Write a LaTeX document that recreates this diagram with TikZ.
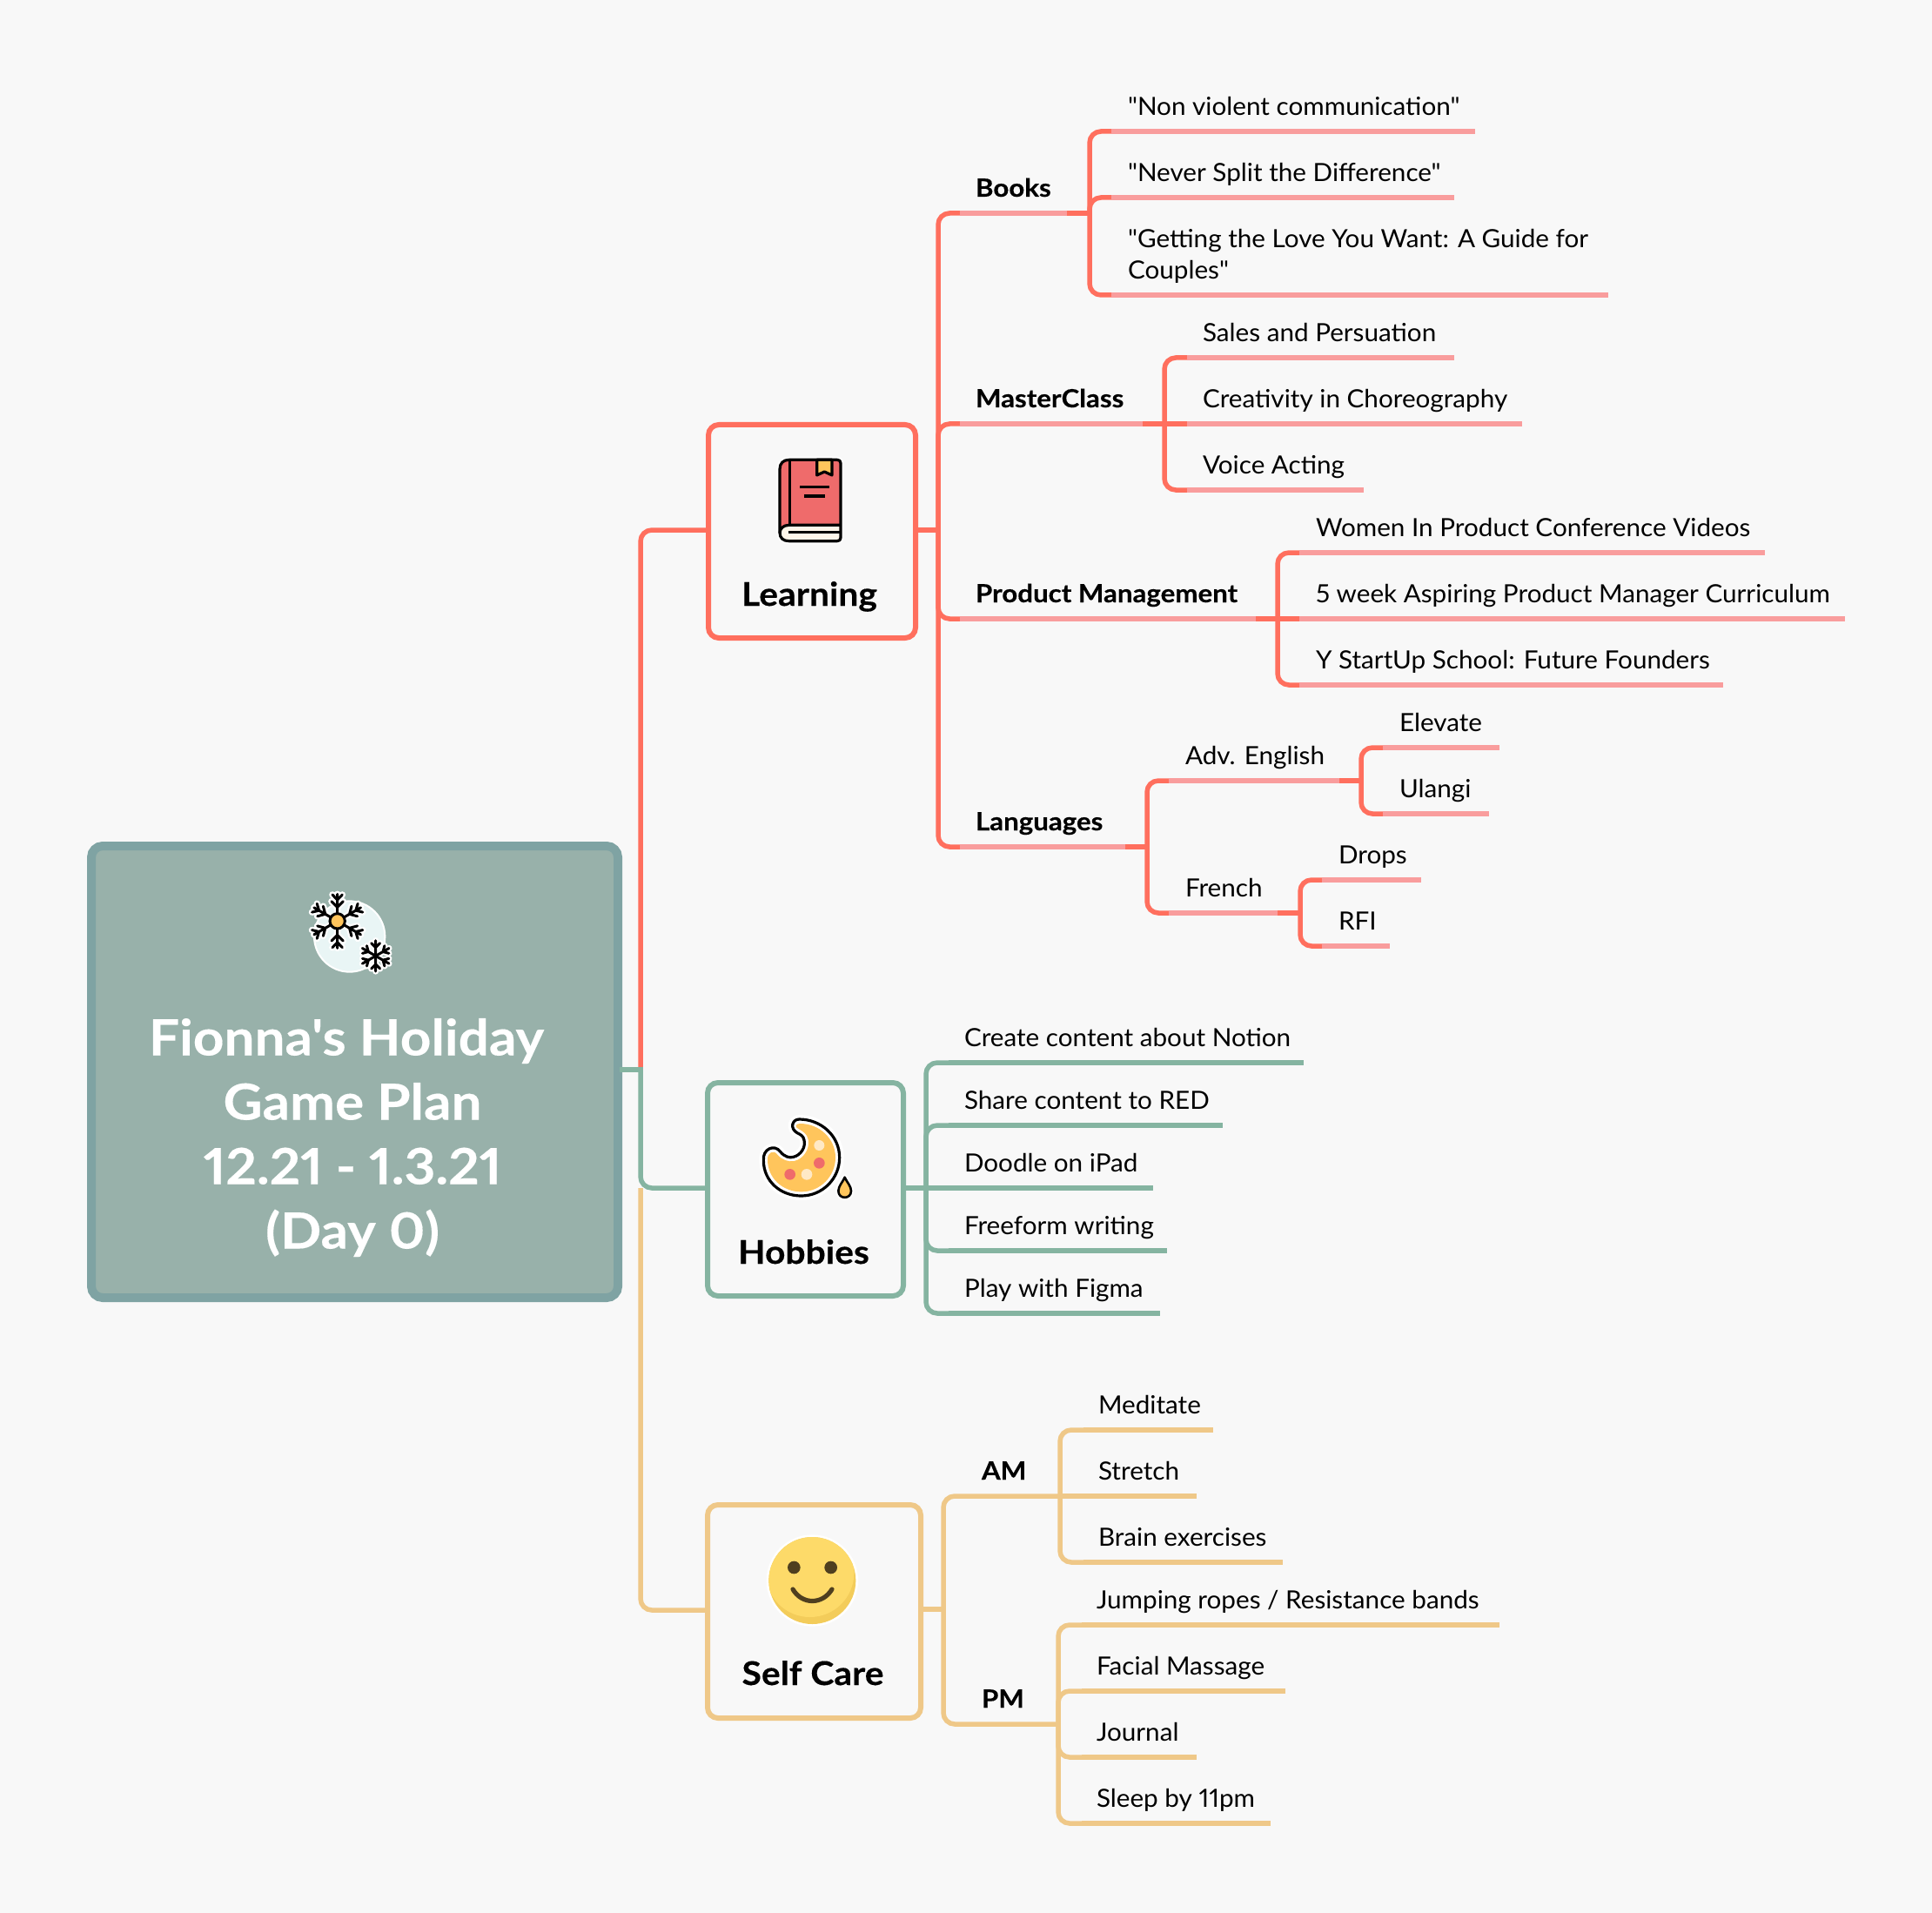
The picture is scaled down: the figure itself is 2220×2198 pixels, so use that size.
\documentclass[tikz,border=0pt]{standalone}
\usepackage{fontspec}
\newfontfamily\latoF{Lato}[Numbers=Proportional,FakeStretch=1.03,BoldFeatures={FakeStretch=1.085,FakeBold=0.25}]
\definecolor{bgc}{HTML}{F8F8F8}
\definecolor{redc}{HTML}{FF6F5E}
\definecolor{pinkc}{HTML}{F99D9D}
\definecolor{greenc}{HTML}{85B4A1}
\definecolor{yelc}{HTML}{EFC888}
\definecolor{rootb}{HTML}{7FA3A3}
\definecolor{rootf}{HTML}{98B1AA}
\definecolor{iyel}{HTML}{FFC55C}
\definecolor{ired}{HTML}{EF6B6B}
\definecolor{icream}{HTML}{FFF6EA}
\definecolor{idot}{HTML}{FFE9C6}
\definecolor{iface}{HTML}{FDDA69}
\definecolor{ishade}{HTML}{F3CC5A}
\definecolor{ieye}{HTML}{4F3F1F}
\definecolor{idisc}{HTML}{E9F5F5}
\tikzset{
  base line/.style={line width=2.75pt,line cap=butt,rounded corners=6.5pt},
  redl/.style={base line,draw=redc},
  pinkl/.style={base line,draw=pinkc},
  grnl/.style={base line,draw=greenc},
  yell/.style={base line,draw=yelc},
  txt/.style={anchor=base west,inner sep=0pt,outer sep=0pt,font=\latoF\fontsize{14.4}{18}\selectfont,text=black},
  btxt/.style={txt,font=\latoF\fontsize{14.4}{18}\selectfont\bfseries},
  topicbox/.style={rectangle,line width=3pt,rounded corners=6pt,fill=bgc,inner sep=0pt,minimum height=122.5pt},
  boxtitle/.style={anchor=base,inner sep=0pt,font=\latoF\fontsize{18.8}{22}\selectfont\bfseries,text=black},
  icl/.style={draw=black,line width=1.6pt,line join=round,line cap=butt},
  flk/.style={line join=round,line cap=round},
}
\def\tipdrop{19}
% #1 line style, #2 far-part style, #3 name, #4 hub, #5 solid end x, #6 end x, #7 y, #8 text x, #9 text
\newcommand\tipline[9]{%
  \coordinate (#3a) at (#5,#7);
  \coordinate (#3b) at (#6,#7);
  \draw[#1] (#4) |- (#3a);
  \draw[#2] (#3a) -- (#3b);
  \node[txt] (#3) at (#8,#7-\tipdrop) {#9};}
% same, for the tip that leaves its hub straight
\newcommand\tipstraight[9]{%
  \coordinate (#3a) at (#5,#7);
  \coordinate (#3b) at (#6,#7);
  \draw[#1] (#4) -- (#3a);
  \draw[#2] (#3a) -- (#3b);
  \node[txt] (#3) at (#8,#7-\tipdrop) {#9};}
% #1 name, #2 parent hub, #3 pink start, #4 pink end, #5 hub x, #6 y, #7 text x, #8 text style, #9 text
\newcommand\midline[9]{%
  \coordinate (#1a) at (#3,#6);
  \coordinate (#1b) at (#4,#6);
  \coordinate (#1h) at (#5,#6);
  \draw[redl] (#2) |- (#1a);
  \draw[pinkl] (#1a) -- (#1b);
  \draw[redl] (#1b) -- (#1h);
  \node[#8] (#1) at (#7,#6-19) {#9};}
\newcommand\flakearm[2]{%
  \draw[#1,line width=#2] (158,145) -- (158,52)
    (158,72) -- (141,54) (158,72) -- (175,54)
    (158,97) -- (138,77)  (158,97) -- (178,77);}
\newcommand\smallarm[2]{%
  \draw[#1,line width=#2] (290,265) -- (290,212)
    (290,236) -- (275,221) (290,236) -- (305,221);}
\begin{document}
\begin{tikzpicture}[x=0.5pt,y=-0.5pt]
\useasboundingbox (0,0) rectangle (2220,2198);
\fill[bgc] (0,0) rectangle (2220,2198);

% trunk coordinates
\coordinate (trunk) at (736,1229);
\coordinate (trunkg) at (736,1365);
\node[draw=redc,topicbox,minimum width=119pt] (learn) at (933,610.5) {};
\node[draw=greenc,topicbox,minimum width=112.5pt] (hobby) at (925.5,1366.5) {};
\node[draw=yelc,topicbox,minimum width=122.5pt] (care) at (935.5,1851.5) {};
\node[rectangle,draw=rootb,fill=rootf,line width=5pt,rounded corners=6.5pt,inner sep=0pt,minimum width=302.5pt,minimum height=259.5pt] (root) at (407.5,1231.5) {};

\draw[yell] (trunkg) |- (care.west |- 0,1850);
\draw[redl] (trunk) |- (learn.west |- 0,609);
\draw[grnl] (trunk) |- (hobby.west |- 0,1365);
\draw[grnl,rounded corners=0pt,line cap=rect] (root.east |- trunk) -- (trunk);

% Learning
\coordinate (lh) at (1078,609);
\draw[redl] (learn.east |- lh) -- (lh);
\midline{books}{lh}{1103}{1226}{1252}{245}{1121}{btxt}{Books}
\def\tipdrop{18}
\tipline{redl}{pinkl}{nv}{booksh}{1277}{1695}{151}{1296}{"Non violent communication"}
\tipline{redl}{pinkl}{ns}{booksh}{1277}{1671}{227}{1296}{"Never Split the Difference"}
\coordinate (gla) at (1277,339);
\coordinate (glb) at (1848,339);
\draw[redl] (booksh) |- (gla);
\draw[pinkl] (gla) -- (glb);
\node[txt] (gl1) at (1296,285) {"Getting the Love You Want: A Guide for};
\node[txt] (gl2) at (1296,321) {Couples"};

\midline{master}{lh}{1103}{1313}{1338}{487}{1121}{btxt}{MasterClass}
\tipline{redl}{pinkl}{sp}{masterh}{1364}{1671}{411}{1382}{Sales and Persuation}
\tipstraight{redl}{pinkl}{cc}{masterh}{1364}{1749}{487}{1382}{Creativity in Choreography}
\tipline{redl}{pinkl}{va}{masterh}{1364}{1567}{563}{1382}{Voice Acting}
\def\tipdrop{19}

\midline{prod}{lh}{1103}{1443}{1468}{711}{1121}{btxt}{Product Management}
\tipline{redl}{pinkl}{wp}{prodh}{1493}{2028}{635}{1512}{Women In Product Conference Videos}
\tipstraight{redl}{pinkl}{fw}{prodh}{1493}{2120}{711}{1512}{5 week Aspiring Product Manager Curriculum}
\tipline{redl}{pinkl}{ys}{prodh}{1493}{1980}{787}{1512}{Y StartUp School: Future Founders}

\midline{lang}{lh}{1103}{1293}{1318}{973}{1121}{btxt}{Languages}
\midline{adv}{langh}{1343}{1539}{1564}{897}{1362}{txt}{Adv. English}
\tipline{redl}{pinkl}{el}{advh}{1589}{1723}{859}{1608}{Elevate}
\tipline{redl}{pinkl}{ul}{advh}{1589}{1711}{935}{1608}{Ulangi}
\midline{fr}{langh}{1343}{1468}{1494}{1049}{1362}{txt}{French}
\tipline{redl}{pinkl}{dr}{frh}{1519}{1633}{1011}{1538}{Drops}
\tipline{redl}{pinkl}{rf}{frh}{1519}{1597}{1087}{1538}{RFI}

% Hobbies
\coordinate (hh) at (1064,1365);
\draw[grnl] (hobby.east |- hh) -- (hh);
\tipline{grnl}{grnl}{h1}{hh}{1090}{1498}{1221}{1108}{Create content about Notion}
\tipline{grnl}{grnl}{h2}{hh}{1090}{1405}{1293}{1108}{Share content to RED}
\tipstraight{grnl}{grnl}{h3}{hh}{1090}{1325}{1365}{1108}{Doodle on iPad}
\tipline{grnl}{grnl}{h4}{hh}{1090}{1341}{1437}{1108}{Freeform writing}
\tipline{grnl}{grnl}{h5}{hh}{1090}{1333}{1509}{1108}{Play with Figma}

% Self care
\coordinate (ch) at (1084,1849);
\draw[yell] (care.east |- ch) -- (ch);
\coordinate (amh) at (1218,1719);
\coordinate (pmh) at (1216,1981);
\draw[yell] (ch) |- (amh);
\draw[yell] (ch) |- (pmh);
\node[btxt] (am) at (1128,1700) {AM};
\node[btxt] (pm) at (1128,1962) {PM};
\tipline{yell}{yell}{a1}{amh}{1245}{1394}{1643}{1262}{Meditate}
\tipstraight{yell}{yell}{a2}{amh}{1245}{1375}{1719}{1262}{Stretch}
\tipline{yell}{yell}{a3}{amh}{1245}{1474}{1795}{1262}{Brain exercises}
\tipline{yell}{yell}{p1}{pmh}{1243}{1723}{1867}{1260}{Jumping ropes / Resistance bands}
\tipline{yell}{yell}{p2}{pmh}{1243}{1477}{1943}{1260}{Facial Massage}
\tipline{yell}{yell}{p3}{pmh}{1243}{1375}{2019}{1260}{Journal}
\tipline{yell}{yell}{p4}{pmh}{1243}{1460}{2095}{1260}{Sleep by 11pm}

% titles
\node[boxtitle] (learnT) at (930,696) {Learning};
\node[boxtitle] (hobbyT) at (923.5,1452) {Hobbies};
\node[boxtitle] (careT) at (934,1936) {Self Care};
\node[anchor=base,inner sep=0pt,text=white,align=center,font=\latoF\fontsize{28.6}{37}\selectfont\bfseries] (rootT) at (405,1434.5) {Fionna's Holiday\hspace*{7pt}\\Game Plan\\12.21 - 1.3.21\\(Day 0)};

% book icon (units: 1/3 px from (790,470))
\begin{scope}[shift={(790,470)},x=0.16667pt,y=-0.16667pt]
  \def\bookshape{(350,175) -- (516,175) .. controls (524,175) and (528,179) .. (528,187) -- (528,443) .. controls (528,451) and (524,455) .. (516,455) -- (350,455) .. controls (330,455) and (318,445) .. (318,425) -- (318,207) .. controls (318,187) and (330,175) .. (350,175) -- cycle}
  \draw[white,fill=white,line width=3.6pt,line join=round] \bookshape;
  \fill[ired] \bookshape;
  \fill[icream] (528,400) -- (350,400) .. controls (330,400) and (318,412) .. (318,428) .. controls (318,445) and (330,455) .. (350,455) -- (516,455) .. controls (524,455) and (528,451) .. (528,443) -- cycle;
  \draw[icl] (528,400) -- (350,400) .. controls (330,400) and (318,412) .. (318,428);
  \draw[icl] \bookshape;
  \draw[icl] (352,175) -- (352,400);
  \draw[icl] (348,424) -- (528,424);
  \filldraw[icl,fill=iyel] (446,175) -- (446,228) -- (472,216) -- (498,228) -- (498,175) -- cycle;
  \draw[icl] (388,268) -- (490,268);
  \draw[icl] (403,300) -- (475,300);
\end{scope}

% palette icon (units: 1/3 px from (800,1220))
\begin{scope}[shift={(800,1220)},x=0.16667pt,y=-0.16667pt]
  \def\palouter{(355,198) .. controls (430,198) and (494,255) .. (494,330) .. controls (494,403) and (435,462) .. (362,462) .. controls (289,462) and (232,410) .. (232,340) .. controls (228,300) and (270,282) .. (290,310) .. controls (305,328) and (322,332) .. (335,328) .. controls (360,322) and (378,295) .. (372,270) .. controls (370,255) and (358,250) .. (348,245) .. controls (322,230) and (330,198) .. (355,198) -- cycle}
  \draw[white,fill=white,line width=5pt,line join=round] \palouter;
  \draw[black,fill=white,line width=1.6pt,line join=round] \palouter;
  \fill[iyel] (358,213) .. controls (425,213) and (480,265) .. (480,330) .. controls (480,395) and (427,448) .. (362,448) .. controls (297,448) and (246,400) .. (246,338) .. controls (244,312) and (268,302) .. (280,320) .. controls (295,338) and (318,346) .. (338,342) .. controls (370,335) and (392,300) .. (386,268) .. controls (383,248) and (365,238) .. (354,232) .. controls (338,225) and (342,213) .. (358,213) -- cycle;
  \fill[ired] (323,388) circle (19);
  \fill[idot] (381,388) circle (19);
  \fill[ired] (424,349) circle (19);
  \fill[idot] (424,288) circle (18);
  \draw[draw=white,fill=white,line width=3.4pt,line join=round] (512,398) .. controls (505,415) and (490,428) .. (490,445) .. controls (490,475) and (534,475) .. (534,445) .. controls (534,428) and (519,415) .. (512,398) -- cycle;
  \filldraw[icl,fill=iyel,line width=1.3pt] (512,398) .. controls (505,415) and (490,428) .. (490,445) .. controls (490,475) and (534,475) .. (534,445) .. controls (534,428) and (519,415) .. (512,398) -- cycle;
\end{scope}

% smiley icon (units: 1/3 px from (800,1720))
\begin{scope}[shift={(800,1720)},x=0.16667pt,y=-0.16667pt]
  \fill[white] (400,288) circle (158);
  \fill[ishade] (400,288) circle (150);
  \begin{scope}
    \clip (400,288) circle (150);
    \fill[iface] (392,262) circle (152);
  \end{scope}
  \fill[ieye] (337,243) circle (22);
  \fill[ieye] (464,243) circle (22);
  \draw[ieye,line width=2.6pt,line cap=round] (333,318) .. controls (365,372) and (435,372) .. (468,318);
\end{scope}

% snowflake icon (units: 1/3 px from (335,1010))
\begin{scope}[shift={(335,1010)},x=0.16667pt,y=-0.16667pt]
  \filldraw[draw=white,fill=idisc,line width=1pt] (200,198) circle (122);
  \foreach \a in {0,60,...,300} {
    \begin{scope}[rotate around={\a:(158,145)}]
      \flakearm{draw=white,flk}{3.8pt}
    \end{scope}
  }
  \foreach \a in {0,60,...,300} {
    \begin{scope}[rotate around={\a:(158,145)}]
      \flakearm{draw=black,flk}{1.5pt}
    \end{scope}
  }
  \filldraw[draw=black,fill=iyel,line width=1.5pt] (158,145) circle (26);
  \foreach \a in {0,60,...,300} {
    \begin{scope}[rotate around={\a:(290,265)}]
      \smallarm{draw=white,flk}{3.6pt}
    \end{scope}
  }
  \foreach \a in {0,60,...,300} {
    \begin{scope}[rotate around={\a:(290,265)}]
      \smallarm{draw=black,flk}{1.5pt}
    \end{scope}
  }
\end{scope}
\end{tikzpicture}
\end{document}
